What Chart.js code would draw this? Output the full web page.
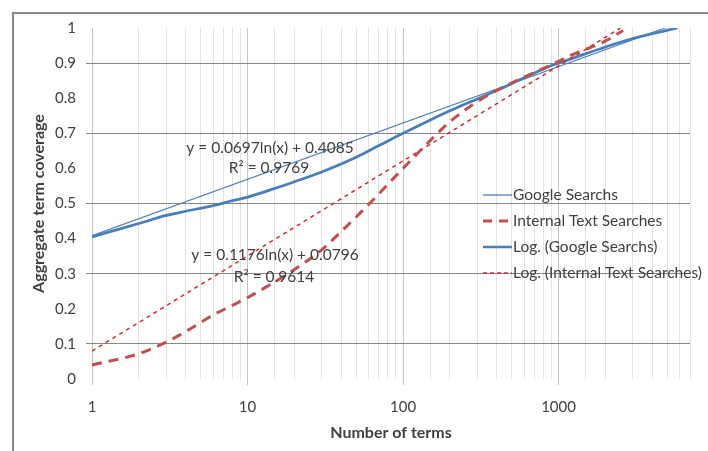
<!DOCTYPE html>
<html>
<head>
<meta charset="utf-8">
<script src="https://cdn.jsdelivr.net/npm/chart.js@4.4.1/dist/chart.umd.min.js"></script>
<style>
  html, body { margin: 0; padding: 0; background: #fff; }
  #wrap { position: relative; width: 708px; height: 451px; overflow: hidden; }
  #frame { position: absolute; left: 12px; top: 12px; width: 800px; height: 600px;
           border-left: 2px solid #8a8a8a; border-top: 2px solid #8a8a8a; }
  canvas { position: absolute; left: 0; top: 0; }
</style>
</head>
<body>
<div id="wrap">
  <div id="frame"></div>
  <canvas id="chart" width="708" height="451"></canvas>
</div>
<script>
// values
const googleTerms    = [1, 2, 3, 4, 6, 8, 10, 15, 20, 30, 50, 70, 100, 150, 200, 300, 400, 600, 900, 1200, 2000, 3000, 4000, 5800];
const googleCoverage = [0.405, 0.443, 0.466, 0.478, 0.494, 0.508, 0.518, 0.543, 0.562, 0.59, 0.632, 0.665, 0.70, 0.738, 0.764, 0.798, 0.822, 0.858, 0.893, 0.912, 0.946, 0.97, 0.984, 1.0];

const internalTerms    = [1, 2, 3, 4, 6, 8, 10, 15, 20, 30, 40, 60, 80, 100, 150, 200, 300, 400, 600, 900, 1200, 2000, 2600];
const internalCoverage = [0.04, 0.072, 0.105, 0.135, 0.182, 0.21, 0.232, 0.277, 0.312, 0.368, 0.42, 0.497, 0.555, 0.6, 0.68, 0.733, 0.79, 0.822, 0.86, 0.895, 0.922, 0.963, 0.993];

// trend lines are straight on the log axis, so two ends are enough
const googleTrendTerms    = [1, 4850];
const googleTrendCoverage = [0.4085, 1.0];
const internalTrendTerms    = [1, 2500];
const internalTrendCoverage = [0.0796, 1.0];

const xTickLabels = [1, 10, 100, 1000];

const legendNames = ['Google Searchs', 'Internal Text Searches', 'Log. (Google Searchs)', 'Log. (Internal Text Searches)'];
const equations = [
    ['y = 0.0697ln(x) + 0.4085', 'R\u00B2 = 0.9769'],
    ['y = 0.1176ln(x) + 0.0796', 'R\u00B2 = 0.9614']
];

const BLUE = '#4a7ebb';
const RED = '#c0504d';
const RED_TREND = '#d42a2a';
const TEXT = '#404040';
const FONT = 'Lato, "Open Sans", sans-serif';

function toPoints(xs, ys) {
    return xs.map((x, i) => ({ x: x, y: ys[i] }));
}

// draws legend and trend equations the way Excel places them
const annotations = {
    id: 'annotations',
    afterDraw(chart) {
        const ctx = chart.ctx;
        ctx.save();
        ctx.font = '15.5px ' + FONT;
        ctx.fillStyle = TEXT;
        ctx.textBaseline = 'middle';

        // equations
        ctx.textAlign = 'center';
        ctx.fillText(equations[0][0], 270, 148);
        ctx.fillText(equations[0][1], 269, 168);
        ctx.fillText(equations[1][0], 275, 255);
        ctx.fillText(equations[1][1], 274, 277);

        // legend
        const styles = [
            { color: BLUE, width: 1.3, dash: [] },
            { color: RED, width: 3, dash: [9, 7] },
            { color: BLUE, width: 2.5, dash: [] },
            { color: RED_TREND, width: 1.5, dash: [4, 3] }
        ];
        const rowsY = [195, 221, 247, 273];
        ctx.textAlign = 'left';
        legendNames.forEach((name, i) => {
            const s = styles[i];
            ctx.beginPath();
            ctx.strokeStyle = s.color;
            ctx.lineWidth = s.width;
            ctx.setLineDash(s.dash);
            ctx.moveTo(483, rowsY[i]);
            ctx.lineTo(512, rowsY[i]);
            ctx.stroke();
            ctx.setLineDash([]);
            ctx.fillText(name, 513, rowsY[i]);
        });
        ctx.restore();
    }
};

const chart = new Chart(document.getElementById('chart'), {
    type: 'line',
    data: {
        datasets: [
            {
                label: legendNames[1],
                data: toPoints(internalTerms, internalCoverage),
                borderColor: RED,
                borderWidth: 3,
                borderDash: [10, 7],
                pointRadius: 0,
                cubicInterpolationMode: 'monotone'
            },
            {
                label: legendNames[3],
                data: toPoints(internalTrendTerms, internalTrendCoverage),
                borderColor: RED_TREND,
                borderWidth: 1.5,
                borderDash: [4, 4],
                pointRadius: 0
            },
            {
                label: legendNames[0],
                data: toPoints(googleTerms, googleCoverage),
                borderColor: BLUE,
                borderWidth: 2.75,
                pointRadius: 0,
                cubicInterpolationMode: 'monotone'
            },
            {
                label: legendNames[2],
                data: toPoints(googleTrendTerms, googleTrendCoverage),
                borderColor: '#4f81bd',
                borderWidth: 1.2,
                pointRadius: 0
            }
        ]
    },
    options: {
        responsive: false,
        animation: false,
        devicePixelRatio: 1,
        layout: { padding: { top: 28, right: 18, left: 0, bottom: 0 } },
        plugins: {
            legend: { display: false },
            tooltip: { enabled: false }
        },
        scales: {
            x: {
                type: 'logarithmic',
                min: 1,
                max: 7000,
                border: { display: false },
                grid: {
                    color: ctx => xTickLabels.includes(ctx.tick.value) ? '#c4c4c4' : '#e2e2e2',
                    tickColor: ctx => xTickLabels.includes(ctx.tick.value) ? '#c4c4c4' : 'rgba(0,0,0,0)',
                    tickLength: 6
                },
                ticks: {
                    autoSkip: false,
                    maxRotation: 0,
                    padding: 13,
                    color: TEXT,
                    font: { family: FONT, size: 15 },
                    callback: value => xTickLabels.includes(value) ? String(value) : ''
                },
                title: {
                    display: true,
                    text: 'Number of terms',
                    color: TEXT,
                    font: { family: FONT, size: 16, weight: 'bold' },
                    padding: { top: 0, bottom: 9 }
                },
                afterFit: scale => { scale.height = 72; }
            },
            y: {
                min: 0,
                max: 1,
                border: { display: false },
                grid: {
                    color: ctx => Math.round(ctx.tick.value * 10) % 2 === 1 ? '#878787' : 'rgba(0,0,0,0)',
                    tickColor: ctx => Math.round(ctx.tick.value * 10) % 2 === 1 ? '#878787' : 'rgba(0,0,0,0)',
                    tickLength: 6
                },
                ticks: {
                    stepSize: 0.1,
                    padding: 10,
                    color: TEXT,
                    font: { family: FONT, size: 15 },
                    callback: value => String(Math.round(value * 10) / 10)
                },
                title: {
                    display: true,
                    text: 'Aggregate term coverage',
                    color: TEXT,
                    font: { family: FONT, size: 16, weight: 'bold' },
                    padding: { top: 29, bottom: 0 }
                },
                afterFit: scale => { scale.width = 92; }
            }
        }
    },
    plugins: [annotations]
});
</script>
</body>
</html>
